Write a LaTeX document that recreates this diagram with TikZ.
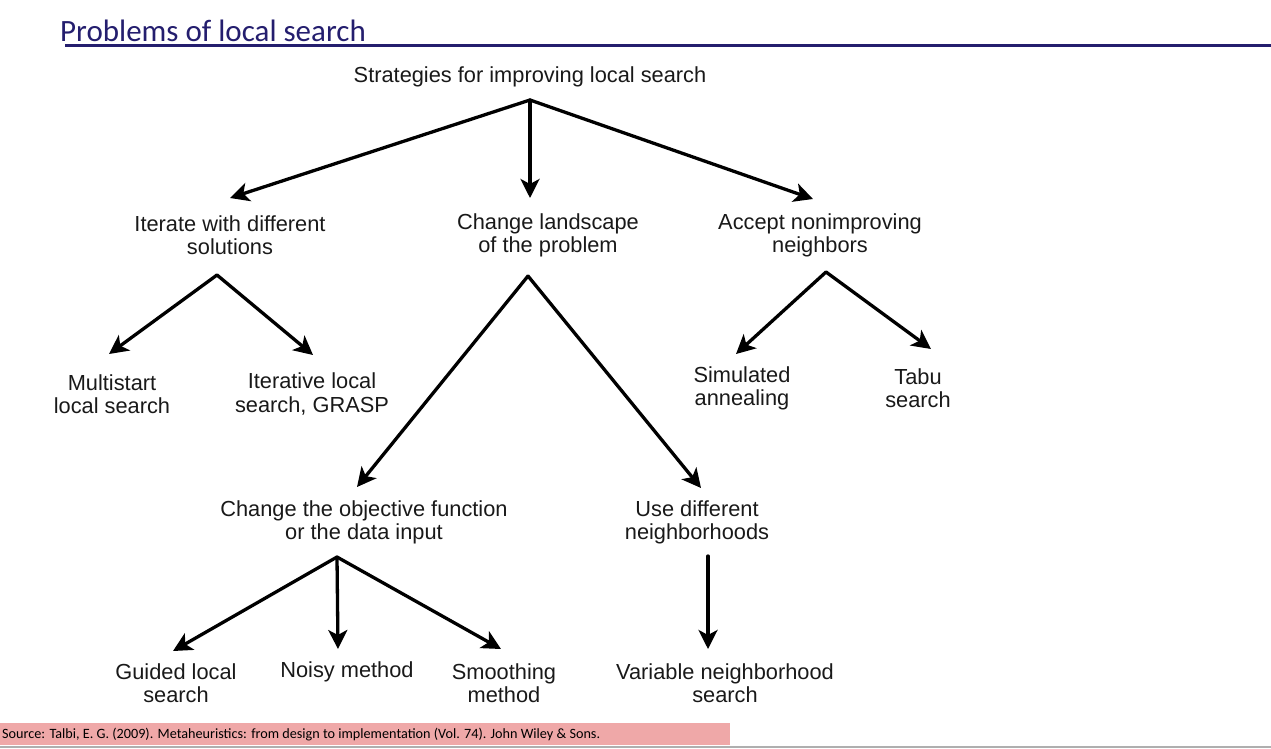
\documentclass[tikz,border=0pt]{standalone}
\usepackage{fontspec}
\setmainfont{Liberation Sans}
\newfontfamily\calib{Carlito}
\usetikzlibrary{arrows.meta}
\definecolor{navy}{RGB}{36,30,110}
\definecolor{txt}{RGB}{25,25,25}
\definecolor{pinkbar}{RGB}{239,168,168}
\definecolor{grayline}{RGB}{175,175,175}
\tikzset{
  lbl/.style={align=center, inner sep=0pt, text=txt, font=\fontsize{21.8}{23.5}\selectfont},
  arr/.style={line width=3.3pt, draw=black, -{Stealth[length=19pt,width=19pt,inset=5pt]}, line cap=round}
}
\begin{document}
\begin{tikzpicture}[x=1pt,y=-1pt]
\useasboundingbox (0,0) rectangle (1271,748);
% title
\node[anchor=base west, inner sep=0pt, text=navy, font=\calib\fontsize{31}{35}\selectfont] (title) at (60,41) {Problems of local search};
\draw[navy, line width=3.2pt] (65,45.8) -- (1271,45.8);
% source bar
\fill[pinkbar] (0,723) rectangle (730,745);
\draw[grayline, line width=2.5pt] (0,746.8) -- (1271,746.8);
\node[anchor=west, inner sep=0pt, text=black, font=\calib\fontsize{14.2}{16}\selectfont] (src) at (2,735) {Source: Talbi, E. G. (2009). Metaheuristics: from design to implementation (Vol. 74). John Wiley \& Sons.};
% nodes
\node[lbl] (root) at (530,77) {Strategies for improving local search};
\node[lbl] (iter) at (230,235) {Iterate with different\\solutions};
\node[lbl] (land) at (548,235.5) {Change landscape\\of the problem};
\node[lbl] (acc) at (820,235.5) {Accept nonimproving\\neighbors};
\node[lbl] (multi) at (112,394) {Multistart\\local search};
\node[lbl] (ils) at (312,394) {Iterative local\\search, GRASP};
\node[lbl] (sa) at (742,388.5) {Simulated\\annealing};
\node[lbl] (tabu) at (918,388) {Tabu\\search};
\node[lbl] (obj) at (364,522.5) {Change the objective function\\or the data input};
\node[lbl] (nbh) at (697,522.5) {Use different\\neighborhoods};
\node[lbl] (gls) at (176,683) {Guided local\\search};
\node[lbl] (noisy) at (347,672) {Noisy method};
\node[lbl] (smooth) at (504,683) {Smoothing\\method};
\node[lbl] (vns) at (725,683) {Variable neighborhood\\search};
% branch points
\coordinate (rootS) at (530,100);
\coordinate (iterS) at (217,275);
\coordinate (landS) at (528,276);
\coordinate (accS) at (826,272);
\coordinate (objS) at (337,557);
\coordinate (nbhS) at (708,556);
% arrow tips
\coordinate (tIter) at (230,198);
\coordinate (tLand) at (530,198);
\coordinate (tAcc) at (813,199);
\coordinate (tMulti) at (109,354);
\coordinate (tIls) at (313,355);
\coordinate (tObj) at (357,487);
\coordinate (tNbh) at (701,488);
\coordinate (tSa) at (736,354);
\coordinate (tTabu) at (931,349);
\coordinate (tGls) at (173,651);
\coordinate (tNoisy) at (338,649);
\coordinate (tSmooth) at (501,649);
\coordinate (tVns) at (708,649);
% connectors
\draw[arr] (rootS) -- (tIter);
\draw[arr] (rootS) -- (tLand);
\draw[arr] (rootS) -- (tAcc);
\draw[arr] (iterS) -- (tMulti);
\draw[arr] (iterS) -- (tIls);
\draw[arr] (landS) -- (tObj);
\draw[arr] (landS) -- (tNbh);
\draw[arr] (accS) -- (tSa);
\draw[arr] (accS) -- (tTabu);
\draw[arr] (objS) -- (tGls);
\draw[arr] (objS) -- (tNoisy);
\draw[arr] (objS) -- (tSmooth);
\draw[arr] (nbhS) -- (tVns);
\end{tikzpicture}
\end{document}
